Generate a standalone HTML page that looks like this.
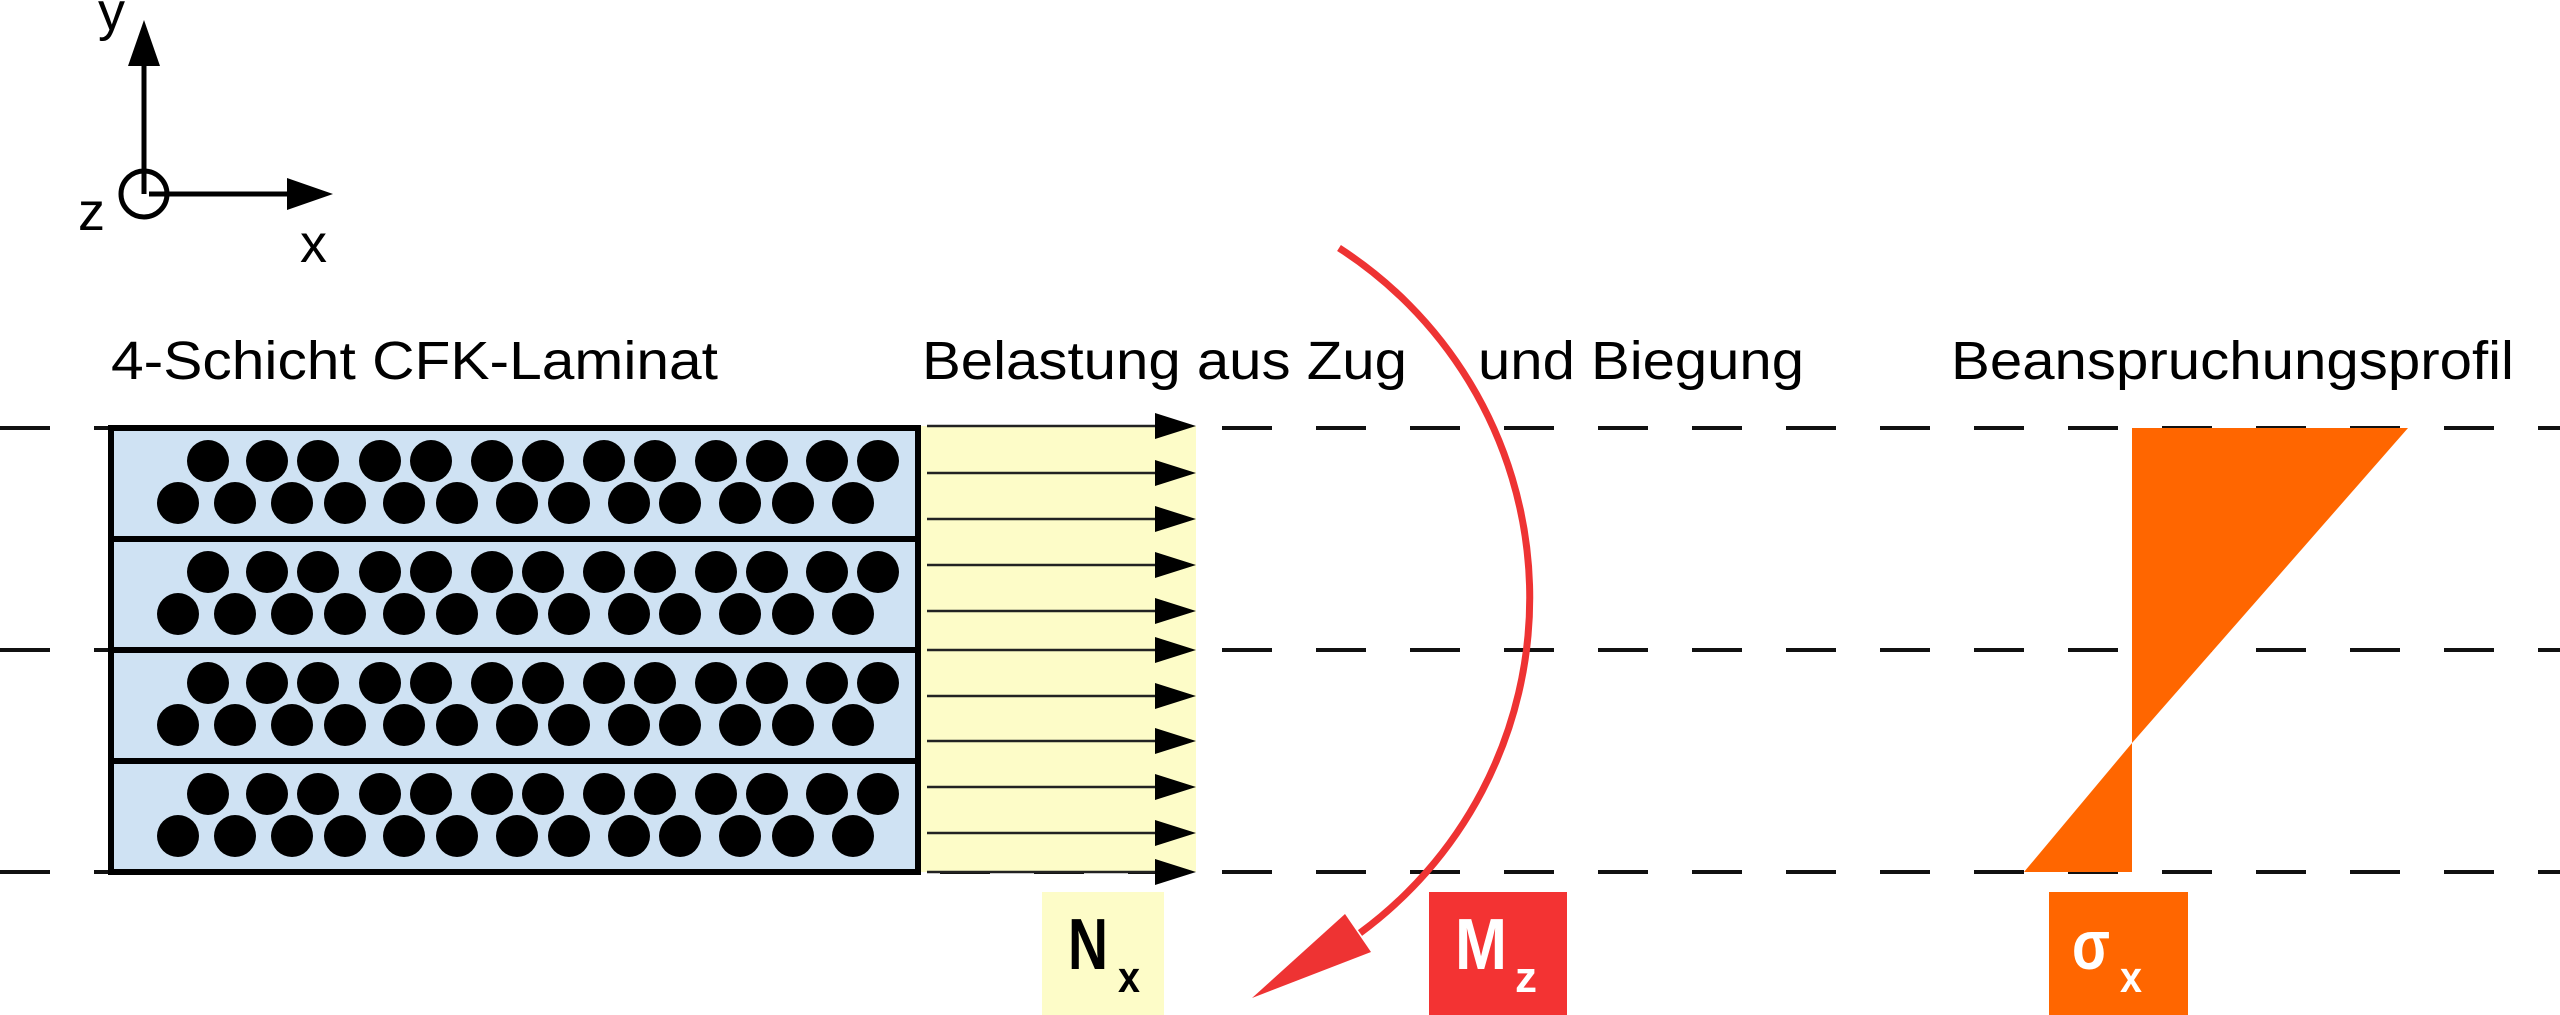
<!DOCTYPE html>
<html><head><meta charset="utf-8"><style>
html,body{margin:0;padding:0;background:#fff;}
svg{display:block;font-family:"Liberation Sans",Arial,sans-serif;}
</style></head><body>
<svg width="2560" height="1015" viewBox="0 0 2560 1015" xmlns="http://www.w3.org/2000/svg">
<g stroke="#111" stroke-width="4" stroke-dasharray="50 44">
<line x1="0" y1="428" x2="2560" y2="428"/>
<line x1="0" y1="650" x2="2560" y2="650"/>
<line x1="0" y1="872" x2="2560" y2="872"/>
</g>
<rect x="918" y="426" width="278" height="446" fill="#fdfcc8"/>
<g stroke="#222" stroke-width="2.5">
<line x1="927" y1="426" x2="1160" y2="426"/>
<line x1="927" y1="473" x2="1160" y2="473"/>
<line x1="927" y1="519" x2="1160" y2="519"/>
<line x1="927" y1="565" x2="1160" y2="565"/>
<line x1="927" y1="611" x2="1160" y2="611"/>
<line x1="927" y1="650" x2="1160" y2="650"/>
<line x1="927" y1="696" x2="1160" y2="696"/>
<line x1="927" y1="741" x2="1160" y2="741"/>
<line x1="927" y1="787" x2="1160" y2="787"/>
<line x1="927" y1="833" x2="1160" y2="833"/>
<line x1="927" y1="872" x2="1160" y2="872"/>
</g>
<g fill="#000">
<polygon points="1155,413 1196,426 1155,439"/>
<polygon points="1155,460 1196,473 1155,486"/>
<polygon points="1155,506 1196,519 1155,532"/>
<polygon points="1155,552 1196,565 1155,578"/>
<polygon points="1155,598 1196,611 1155,624"/>
<polygon points="1155,637 1196,650 1155,663"/>
<polygon points="1155,683 1196,696 1155,709"/>
<polygon points="1155,728 1196,741 1155,754"/>
<polygon points="1155,774 1196,787 1155,800"/>
<polygon points="1155,820 1196,833 1155,846"/>
<polygon points="1155,859 1196,872 1155,885"/>
</g>
<rect x="111" y="428" width="807" height="444" fill="#cfe2f3" stroke="#000" stroke-width="6"/>
<g stroke="#000" stroke-width="6">
<line x1="111" y1="539" x2="918" y2="539"/>
<line x1="111" y1="650" x2="918" y2="650"/>
<line x1="111" y1="761" x2="918" y2="761"/>
</g>
<defs>
<g id="fib" fill="#000">
<circle cx="208" cy="0" r="21"/><circle cx="267" cy="0" r="21"/><circle cx="318" cy="0" r="21"/><circle cx="380" cy="0" r="21"/><circle cx="431" cy="0" r="21"/><circle cx="492" cy="0" r="21"/><circle cx="543" cy="0" r="21"/><circle cx="604" cy="0" r="21"/><circle cx="655" cy="0" r="21"/><circle cx="716" cy="0" r="21"/><circle cx="767" cy="0" r="21"/><circle cx="827" cy="0" r="21"/><circle cx="878" cy="0" r="21"/>
<circle cx="178" cy="42" r="21"/><circle cx="235" cy="42" r="21"/><circle cx="292" cy="42" r="21"/><circle cx="345" cy="42" r="21"/><circle cx="404" cy="42" r="21"/><circle cx="457" cy="42" r="21"/><circle cx="517" cy="42" r="21"/><circle cx="569" cy="42" r="21"/><circle cx="629" cy="42" r="21"/><circle cx="680" cy="42" r="21"/><circle cx="740" cy="42" r="21"/><circle cx="793" cy="42" r="21"/><circle cx="853" cy="42" r="21"/>
</g>
</defs>
<use href="#fib" y="461"/>
<use href="#fib" y="572"/>
<use href="#fib" y="683"/>
<use href="#fib" y="794"/>
<polygon points="2132,428 2408,428 2132,743" fill="#ff6600"/>
<polygon points="2132,743 2132,872 2024,872" fill="#ff6600"/>
<path d="M1339,248 A416,416 0 0 1 1360,933" fill="none" stroke="#ee3333" stroke-width="7"/>
<polygon points="1252,998 1345,914 1371,952" fill="#ee3333"/>
<rect x="1042" y="892" width="122" height="123" fill="#fdfcc8"/>
<text x="1068" y="969" font-size="72" font-weight="bold" fill="#000" textLength="40" lengthAdjust="spacingAndGlyphs">N</text>
<text x="1118" y="992" font-size="44" font-weight="bold" fill="#000" textLength="22" lengthAdjust="spacingAndGlyphs">x</text>
<rect x="1429" y="892" width="138" height="123" fill="#f33333"/>
<text x="1455" y="969" font-size="72" font-weight="bold" fill="#fff" textLength="52" lengthAdjust="spacingAndGlyphs">M</text>
<text x="1515" y="992" font-size="44" font-weight="bold" fill="#fff" textLength="22" lengthAdjust="spacingAndGlyphs">z</text>
<rect x="2049" y="892" width="139" height="123" fill="#ff6600"/>
<text x="2072" y="969" font-size="70" font-weight="bold" fill="#fff" textLength="38" lengthAdjust="spacingAndGlyphs">σ</text>
<text x="2120" y="992" font-size="44" font-weight="bold" fill="#fff" textLength="22" lengthAdjust="spacingAndGlyphs">x</text>
<g font-size="54" fill="#000">
<text x="111" y="379" textLength="607" lengthAdjust="spacingAndGlyphs">4-Schicht CFK-Laminat</text>
<text x="922" y="379" textLength="485" lengthAdjust="spacingAndGlyphs">Belastung aus Zug</text>
<text x="1478" y="379" textLength="326" lengthAdjust="spacingAndGlyphs">und Biegung</text>
<text x="1951" y="379" textLength="563" lengthAdjust="spacingAndGlyphs">Beanspruchungsprofil</text>
</g>
<g stroke="#000" stroke-width="5" fill="none">
<line x1="144" y1="194" x2="144" y2="60"/>
<line x1="149" y1="194" x2="290" y2="194"/>
<circle cx="144" cy="194" r="23"/>
</g>
<polygon points="144,20 128,66 160,66" fill="#000"/>
<polygon points="333,194 287,178 287,210" fill="#000"/>
<g font-size="54" fill="#000">
<text x="98" y="30">y</text>
<text x="78" y="230">z</text>
<text x="300" y="262">x</text>
</g>
</svg>
</body></html>
